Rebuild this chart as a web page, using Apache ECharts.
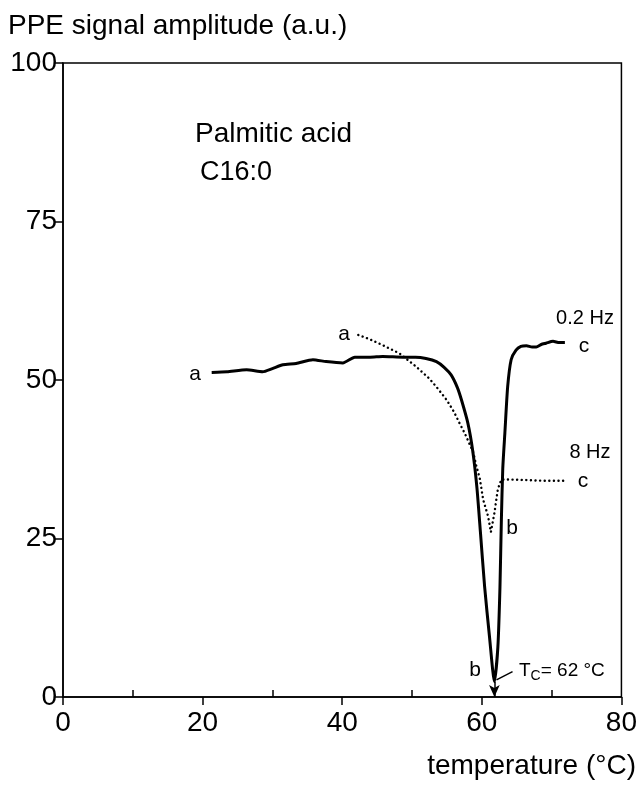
<!DOCTYPE html>
<html>
<head>
<meta charset="utf-8">
<script src="https://cdn.jsdelivr.net/npm/echarts@6/dist/echarts.min.js"></script>
<style>
html,body{margin:0;padding:0;background:#fff;}
#chart{width:640px;height:785px;}
</style>
</head>
<body>
<div id="chart"></div>
<script>
// ---- data ----
var xTicks = [0, 20, 40, 60, 80];
var xMinorTicks = [10, 30, 50, 70];
var yTicks = [0, 25, 50, 75, 100];

// 0.2 Hz curve (solid): [temperature, amplitude]
var curve02Hz = [
  [21.3,51.2],[23.5,51.3],[26.3,51.6],[28.6,51.3],[30.0,51.8],[31.5,52.4],[33.4,52.6],
  [35.8,53.2],[37.7,52.9],[40.1,52.7],[41.8,53.6],[44.0,53.6],[45.8,53.7],[48.7,53.6],
  [50.5,53.6],[52.0,53.4],[53.5,52.9],[54.6,52.0],[55.6,50.8],[56.5,48.8],[57.1,46.8],
  [58.0,43.2],[58.7,38.8],[59.3,33.0],[59.8,26.0],[60.4,17.4],[61.1,9.5],[61.8,2.4],
  [62.3,7.9],[62.6,17.4],[62.8,27.9],[63.0,36.0],[63.3,41.6],[63.7,48.9],[64.2,53.2],
  [64.9,54.7],[65.6,55.3],[66.4,55.4],[67.2,55.2],[67.8,55.2],[68.5,55.6],[69.2,55.8],
  [70.2,56.1],[71.1,55.9],[71.9,55.9]
];

// 8 Hz curve (dotted)
var curve8Hz = [
  [42.3,57.1],[44.0,56.4],[45.8,55.5],[48.2,54.2],[50.6,52.1],[52.5,50.2],[53.8,48.5],
  [55.0,46.8],[56.0,45.0],[56.8,43.2],[57.6,41.5],[58.2,40.0],[58.8,38.5],[59.2,36.5],
  [59.7,34.5],[60.2,31.1],[60.9,28.5],[61.3,26.0],[61.8,29.0],[62.3,32.8],[62.8,34.3],
  [64.0,34.3],[66.8,34.2],[69.0,34.1],[72.2,34.1]
];

var tcArrow = [[61.8, 2.4], [61.8, 0]];
var tcLeader = [[62.1, 2.7], [64.4, 4.0]];

var FONT = '"Liberation Sans", Arial, sans-serif';

var chart = echarts.init(document.getElementById('chart'), null, {renderer: 'canvas'});

var option = {
  animation: false,
  backgroundColor: '#fff',
  grid: {
    left: 63, right: 18, top: 63, bottom: 88,
    show: true, borderColor: '#000', borderWidth: 1.5, backgroundColor: 'transparent'
  },
  xAxis: [{
    type: 'value', min: 0, max: 80, interval: 20,
    axisLine: {show: true, lineStyle: {color: '#000', width: 1.5}},
    axisTick: {show: true, length: 8, lineStyle: {color: '#000', width: 1.5}},
    axisLabel: {color: '#000', fontSize: 28, fontFamily: FONT, margin: 12,
      customValues: xTicks},
    splitLine: {show: false}
  }, {
    type: 'value', min: 0, max: 80, position: 'bottom', gridIndex: 0,
    axisLine: {show: false},
    axisTick: {show: true, inside: true, length: 7, customValues: xMinorTicks,
      lineStyle: {color: '#000', width: 1.5}},
    axisLabel: {show: false},
    splitLine: {show: false}
  }],
  yAxis: {
    type: 'value', min: 0, max: 100, interval: 25,
    axisLine: {show: true, lineStyle: {color: '#000', width: 1.5}},
    axisTick: {show: true, length: 8, lineStyle: {color: '#000', width: 1.5}},
    axisLabel: {color: '#000', fontSize: 28, fontFamily: FONT, margin: 6,
      customValues: yTicks},
    splitLine: {show: false}
  },
  series: [{
    name: '0.2 Hz', type: 'line', data: curve02Hz, showSymbol: false, smooth: 0.2,
    lineStyle: {color: '#000', width: 3},
    markLine: {
      silent: true, symbol: ['none', 'none'], animation: false,
      lineStyle: {color: '#000', width: 1.5, type: 'solid'},
      label: {show: false},
      data: [
        [{coord: tcArrow[0], symbol: 'none'}, {coord: tcArrow[1], symbol: 'arrow', symbolSize: [8, 12]}],
        [{coord: tcLeader[0]}, {coord: tcLeader[1]}]
      ]
    }
  }, {
    name: '8 Hz', type: 'line', data: curve8Hz, showSymbol: false,
    lineStyle: {color: '#000', width: 2.4, type: [0.1, 4.5], cap: 'round'}
  }],
  graphic: [
    {type: 'text', style: {text: 'PPE signal amplitude (a.u.)', x: 8, y: 26, verticalAlign: 'middle', font: '28px ' + FONT, fill: '#000'}},
    {type: 'text', style: {text: 'temperature (°C)', x: 636, y: 766, align: 'right', verticalAlign: 'middle', font: '28px ' + FONT, fill: '#000'}},
    {type: 'text', style: {text: 'Palmitic acid', x: 195, y: 134, verticalAlign: 'middle', font: '28px ' + FONT, fill: '#000'}},
    {type: 'text', style: {text: 'C16:0', x: 200, y: 173, verticalAlign: 'middle', font: '27px ' + FONT, fill: '#000'}},
    {type: 'text', style: {text: 'a', x: 195, y: 374, align: 'center', verticalAlign: 'middle', font: '21px ' + FONT, fill: '#000'}},
    {type: 'text', style: {text: 'a', x: 344, y: 334, align: 'center', verticalAlign: 'middle', font: '21px ' + FONT, fill: '#000'}},
    {type: 'text', style: {text: '0.2 Hz', x: 585, y: 318, align: 'center', verticalAlign: 'middle', font: '20px ' + FONT, fill: '#000'}},
    {type: 'text', style: {text: 'c', x: 584, y: 346, align: 'center', verticalAlign: 'middle', font: '21px ' + FONT, fill: '#000'}},
    {type: 'text', style: {text: '8 Hz', x: 590, y: 452, align: 'center', verticalAlign: 'middle', font: '20px ' + FONT, fill: '#000'}},
    {type: 'text', style: {text: 'c', x: 583, y: 481, align: 'center', verticalAlign: 'middle', font: '21px ' + FONT, fill: '#000'}},
    {type: 'text', style: {text: 'b', x: 512, y: 528, align: 'center', verticalAlign: 'middle', font: '21px ' + FONT, fill: '#000'}},
    {type: 'text', style: {text: 'b', x: 475, y: 670, align: 'center', verticalAlign: 'middle', font: '21px ' + FONT, fill: '#000'}},
    {type: 'text', style: {
      text: 'T{s|C}= 62 °C', x: 519, y: 671, verticalAlign: 'middle', font: '19px ' + FONT, fill: '#000',
      rich: {s: {fontSize: 14, fontFamily: FONT, verticalAlign: 'bottom', padding: [11, 0, 0, 0]}}
    }}
  ]
};
chart.setOption(option);
</script>
</body>
</html>
